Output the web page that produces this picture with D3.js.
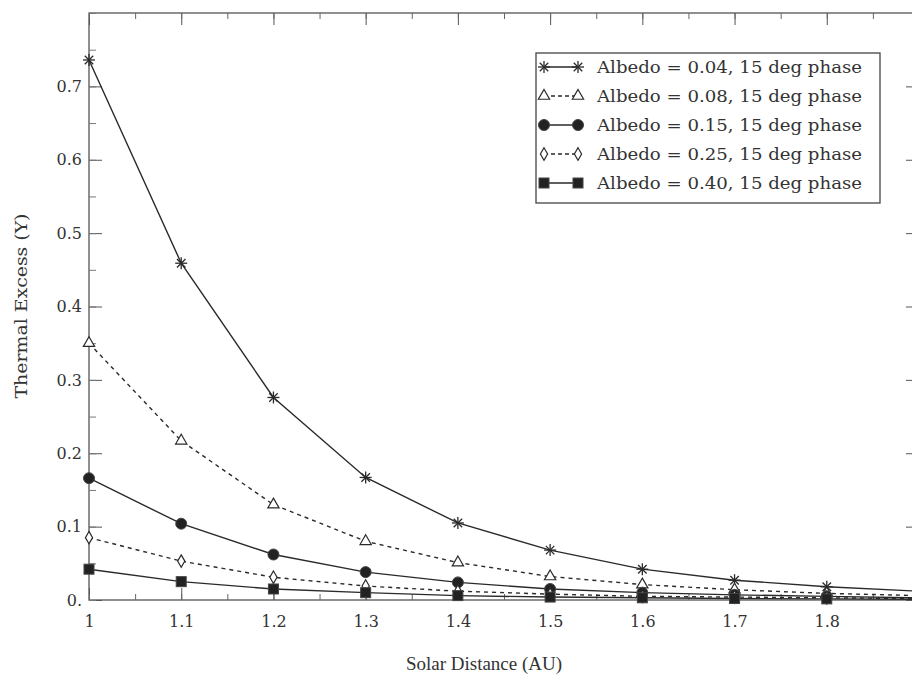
<!DOCTYPE html>
<html><head><meta charset="utf-8">
<script src="https://cdn.jsdelivr.net/npm/d3@7/dist/d3.min.js"></script>
<style>
html,body{margin:0;padding:0;background:#fff;overflow:hidden;}
svg{display:block;}
text{font-family:"DejaVu Serif","Liberation Serif",serif;fill:#333;}
</style></head>
<body>
<svg id="chart" width="912" height="679"></svg>
<script>
const distances = [1.0, 1.1, 1.2, 1.3, 1.4, 1.5, 1.6, 1.7, 1.8, 1.9];
const albedo004 = [0.736, 0.459, 0.276, 0.167, 0.105, 0.068, 0.042, 0.027, 0.018, 0.012];
const albedo008 = [0.350, 0.217, 0.130, 0.080, 0.051, 0.032, 0.021, 0.014, 0.009, 0.006];
const albedo015 = [0.166, 0.104, 0.062, 0.038, 0.024, 0.015, 0.010, 0.007, 0.005, 0.003];
const albedo025 = [0.085, 0.053, 0.031, 0.019, 0.012, 0.008, 0.005, 0.004, 0.003, 0.002];
const albedo040 = [0.042, 0.025, 0.015, 0.010, 0.006, 0.004, 0.003, 0.002, 0.0015, 0.001];
const seriesLabels = ["Albedo = 0.04, 15 deg phase","Albedo = 0.08, 15 deg phase","Albedo = 0.15, 15 deg phase","Albedo = 0.25, 15 deg phase","Albedo = 0.40, 15 deg phase"];
const seriesMarkers = ["asterisk","triangle","circle","diamond","square"];
const seriesDashed = [false, true, false, true, false];
const xTickValues = [1, 1.1, 1.2, 1.3, 1.4, 1.5, 1.6, 1.7, 1.8];
const xTickLabels = ["1","1.1","1.2","1.3","1.4","1.5","1.6","1.7","1.8"];
const yTickValues = [0, 0.1, 0.2, 0.3, 0.4, 0.5, 0.6, 0.7];
const yTickLabels = ["0.","0.1","0.2","0.3","0.4","0.5","0.6","0.7"];

const seriesValues = [albedo004, albedo008, albedo015, albedo025, albedo040];
const svg = d3.select("#chart");
const L = 89, T = 13, B = 600;
const x = d3.scaleLinear().domain([1, 1.9]).range([L, L + 830]);
const y = d3.scaleLinear().domain([0, 0.8]).range([B, T]);
const ink = "#2a2a2a";
const font = "DejaVu Serif";

const g = svg.append("g");
g.append("rect").attr("x", x(1)).attr("y", y(0.8)).attr("width", x(1.9)-x(1)).attr("height", y(0)-y(0.8))
  .attr("fill","none").attr("stroke","#555").attr("stroke-width",1.3);

const xMinor = d3.range(1, 1.91, 0.05);
const xMajorAll = d3.range(1, 1.91, 0.1);
const yMinor = d3.range(0, 0.801, 0.05);
// bottom axis
const bx = d3.axisBottom(x).tickValues(xTickValues).tickFormat((d,i)=>xTickLabels[i]).tickSizeInner(-12).tickSizeOuter(0).tickPadding(16);
const gb = g.append("g").attr("transform",`translate(0,${B})`).call(bx);
gb.select(".domain").remove();
gb.selectAll("line").attr("stroke","#555");
gb.selectAll("text").attr("font-size",16).attr("fill","#333").attr("font-family",font);
g.append("g").attr("transform",`translate(0,${B})`).call(d3.axisBottom(x).tickValues(xMinor).tickFormat("").tickSizeInner(-6).tickSizeOuter(0))
  .call(s=>{s.select(".domain").remove(); s.selectAll("line").attr("stroke","#666");});
// top axis
g.append("g").attr("transform",`translate(0,${T})`).call(d3.axisTop(x).tickValues(xMajorAll).tickFormat("").tickSizeInner(-12).tickSizeOuter(0))
  .call(s=>{s.select(".domain").remove(); s.selectAll("line").attr("stroke","#555");});
g.append("g").attr("transform",`translate(0,${T})`).call(d3.axisTop(x).tickValues(xMinor).tickFormat("").tickSizeInner(-6).tickSizeOuter(0))
  .call(s=>{s.select(".domain").remove(); s.selectAll("line").attr("stroke","#666");});
// left axis
const ly = d3.axisLeft(y).tickValues(yTickValues).tickFormat((d,i)=>yTickLabels[i]).tickSizeInner(-13).tickSizeOuter(0);
const gl = g.append("g").attr("transform",`translate(${L},0)`).call(ly);
gl.select(".domain").remove();
gl.selectAll("line").attr("stroke","#555");
gl.selectAll("text").attr("font-size",16).attr("fill","#333").attr("font-family",font).attr("text-anchor","end").attr("x",-7);
g.append("g").attr("transform",`translate(${L},0)`).call(d3.axisLeft(y).tickValues(yMinor).tickFormat("").tickSizeInner(-7).tickSizeOuter(0))
  .call(s=>{s.select(".domain").remove(); s.selectAll("line").attr("stroke","#777");});
// right axis
g.append("g").attr("transform",`translate(${x(1.9)},0)`).call(d3.axisRight(y).tickValues(yTickValues).tickFormat("").tickSizeInner(-13).tickSizeOuter(0))
  .call(s=>{s.select(".domain").remove(); s.selectAll("line").attr("stroke","#555");});
g.append("g").attr("transform",`translate(${x(1.9)},0)`).call(d3.axisRight(y).tickValues(yMinor).tickFormat("").tickSizeInner(-7).tickSizeOuter(0))
  .call(s=>{s.select(".domain").remove(); s.selectAll("line").attr("stroke","#777");});

function drawMarker(sel, type, cx, cy) {
  const m = sel.append("g").attr("transform",`translate(${cx},${cy})`);
  if (type === "asterisk") {
    const r = 6;
    for (let k = 0; k < 4; k++) {
      const a = k * Math.PI / 4;
      m.append("line").attr("x1",-r*Math.cos(a)).attr("y1",-r*Math.sin(a)).attr("x2",r*Math.cos(a)).attr("y2",r*Math.sin(a))
        .attr("stroke",ink).attr("stroke-width",1.3);
    }
  } else if (type === "triangle") {
    m.append("path").attr("d", d3.symbol(d3.symbolTriangle, 55)()).attr("fill","#fff").attr("stroke",ink).attr("stroke-width",1.2);
  } else if (type === "circle") {
    m.append("circle").attr("r",5.5).attr("fill","#222").attr("stroke","#444");
  } else if (type === "diamond") {
    m.append("path").attr("d", d3.symbol(d3.symbolDiamond, 45)()).attr("fill","#fff").attr("stroke",ink).attr("stroke-width",1.2);
  } else if (type === "square") {
    m.append("rect").attr("x",-5).attr("y",-5).attr("width",10).attr("height",10).attr("fill","#222").attr("stroke","#444");
  }
}

const line = d3.line().x(d=>x(d[0])).y(d=>y(d[1]));
const plot = svg.append("g");
seriesValues.forEach((vals, si) => {
  const pts = distances.map((d,i)=>[d, vals[i]]);
  plot.append("path").datum(pts).attr("d", line).attr("fill","none").attr("stroke",ink)
    .attr("stroke-width",1.4).attr("stroke-dasharray", seriesDashed[si] ? "4,4" : null);
});
seriesValues.forEach((vals, si) => {
  distances.forEach((d,i)=>drawMarker(plot, seriesMarkers[si], x(d), y(vals[i])));
});

// legend
const lg = svg.append("g");
const lx = 536, lyTop = 53, lw = 344, lh = 150;
lg.append("rect").attr("x",lx).attr("y",lyTop).attr("width",lw).attr("height",lh).attr("fill","#fff").attr("stroke","#444").attr("stroke-width",1.3);
seriesLabels.forEach((lab, si) => {
  const ry = lyTop + 14 + si * 29;
  lg.append("line").attr("x1",lx+8).attr("x2",lx+42).attr("y1",ry).attr("y2",ry).attr("stroke",ink).attr("stroke-width",1.4)
    .attr("stroke-dasharray", seriesDashed[si] ? "4,3" : null);
  drawMarker(lg, seriesMarkers[si], lx+8, ry);
  drawMarker(lg, seriesMarkers[si], lx+42, ry);
  lg.append("text").attr("x",lx+61).attr("y",ry+6).attr("font-size",16).attr("textLength",265).attr("lengthAdjust","spacingAndGlyphs").text(lab);
});

// axis titles
svg.append("text").attr("x",484).attr("y",670).attr("text-anchor","middle").style("font-family","'Liberation Serif', serif").attr("font-size",19).text("Solar Distance (AU)");
svg.append("text").attr("transform","translate(27,306) rotate(-90)").attr("text-anchor","middle").attr("font-size",16).attr("textLength",185).attr("lengthAdjust","spacingAndGlyphs").text("Thermal Excess (Y)");
</script>
</body></html>
